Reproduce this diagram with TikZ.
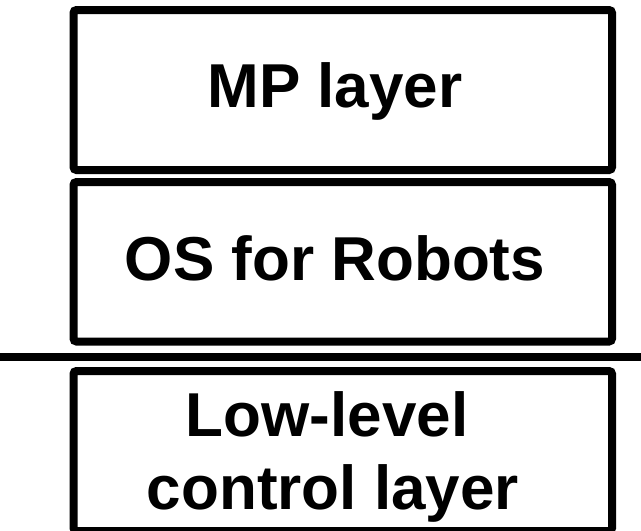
\documentclass[tikz,border=0pt]{standalone}
\usepackage{fontspec}
\setmainfont{Liberation Sans}
\begin{document}
\begin{tikzpicture}[x=1pt,y=-1pt,
  layerbox/.style={draw=black,line width=8pt,rounded corners=3pt},
  lbl/.style={anchor=base,inner sep=0pt,font=\fontsize{62}{62}\selectfont\bfseries}]
\useasboundingbox (0,0) rectangle (641,531);
\draw[layerbox] (73.5,10) rectangle (612,170);
\draw[layerbox] (73.5,182) rectangle (612,341.5);
\draw[layerbox] (73.5,371) rectangle (612,531);
\coordinate (sl) at (0,356.5);
\coordinate (sr) at (641,356.5);
\draw[line width=8pt] (sl) -- (sr);
\node[lbl] (mp) at (335,107) {MP layer};
\node[lbl] (os) at (335,280) {OS for Robots};
\node[lbl] (ll1) at (327,436) {Low-level};
\node[lbl] (ll2) at (333,509) {control layer};
\end{tikzpicture}
\end{document}
